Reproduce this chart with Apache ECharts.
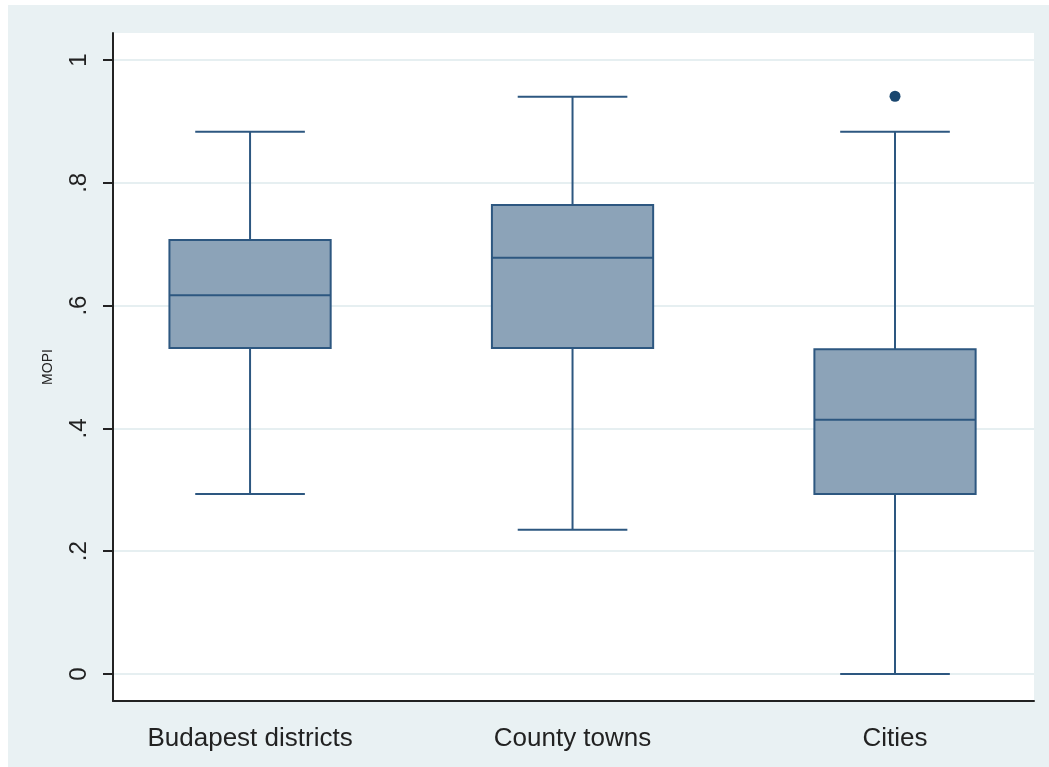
<!DOCTYPE html>
<html>
<head>
<meta charset="utf-8">
<script src="https://cdn.jsdelivr.net/npm/echarts@6/dist/echarts.min.js"></script>
<style>
  html, body { margin: 0; padding: 0; background: #ffffff; }
  #chart { position: absolute; left: 8px; top: 5px; width: 1041px; height: 762px; }
</style>
</head>
<body>
<div id="chart"></div>
<script>
// Groups shown along the horizontal axis
const categories = ['Budapest districts', 'County towns', 'Cities'];
// Box statistics per group: lower whisker, Q1, median, Q3, upper whisker
const lowerWhisker = [0.293, 0.235, 0.000];
const quartile1    = [0.531, 0.531, 0.293];
const medians      = [0.617, 0.678, 0.414];
const quartile3    = [0.707, 0.764, 0.529];
const upperWhisker = [0.883, 0.940, 0.883];
// Outside values: [group index, value]
const outliers = [[2, 0.941]];
// Y axis tick values
const yTicks = [0, 0.2, 0.4, 0.6, 0.8, 1];

const boxData = categories.map((c, i) => [
  i + 1, lowerWhisker[i], quartile1[i], medians[i], quartile3[i], upperWhisker[i]
]);
const outlierData = outliers.map(o => [o[0] + 1, o[1]]);

const STROKE = '#2d5780';
const FILL = '#8ca3b8';
const BOX_W = 0.5;   // box width in x units
const CAP_W = 0.34;  // whisker cap width in x units

function renderBox(params, api) {
  const x = api.value(0);
  const lo = api.coord([x, api.value(1)]);
  const q1 = api.coord([x, api.value(2)]);
  const md = api.coord([x, api.value(3)]);
  const q3 = api.coord([x, api.value(4)]);
  const hi = api.coord([x, api.value(5)]);
  const bw = api.size([BOX_W, 0])[0];
  const cw = api.size([CAP_W, 0])[0];
  const cx = lo[0];
  const line = { stroke: STROKE, lineWidth: 2 };
  return {
    type: 'group',
    children: [
      { type: 'line', shape: { x1: cx, y1: hi[1], x2: cx, y2: q3[1] }, style: line },
      { type: 'line', shape: { x1: cx, y1: q1[1], x2: cx, y2: lo[1] }, style: line },
      { type: 'line', shape: { x1: cx - cw / 2, y1: hi[1], x2: cx + cw / 2, y2: hi[1] }, style: line },
      { type: 'line', shape: { x1: cx - cw / 2, y1: lo[1], x2: cx + cw / 2, y2: lo[1] }, style: line },
      { type: 'rect', shape: { x: cx - bw / 2, y: q3[1], width: bw, height: q1[1] - q3[1] },
        style: { fill: FILL, stroke: STROKE, lineWidth: 2 } },
      { type: 'line', shape: { x1: cx - bw / 2, y1: md[1], x2: cx + bw / 2, y2: md[1] }, style: line }
    ]
  };
}

const chart = echarts.init(document.getElementById('chart'), null, { renderer: 'canvas' });
chart.setOption({
  backgroundColor: '#e9f1f3',
  animation: false,
  grid: {
    left: 105, right: 15, top: 28, bottom: 66,
    show: true, backgroundColor: '#ffffff', borderWidth: 0
  },
  xAxis: {
    type: 'value',
    min: 0.575, max: 3.431,
    axisLine: { show: true, onZero: false, lineStyle: { color: '#222222', width: 2 } },
    axisTick: { show: false },
    splitLine: { show: false },
    axisLabel: {
      customValues: [1, 2, 3],
      formatter: v => categories[Math.round(v) - 1] || '',
      color: '#222222', fontFamily: 'Liberation Sans, Arial, sans-serif', fontSize: 26, margin: 25
    }
  },
  yAxis: {
    type: 'value',
    min: -0.044, max: 1.044,
    name: 'MOPI',
    nameLocation: 'middle',
    nameGap: 58,
    nameRotate: 90,
    nameTextStyle: { color: '#222222', fontFamily: 'Liberation Sans, Arial, sans-serif', fontSize: 14 },
    axisLine: { show: true, onZero: false, lineStyle: { color: '#222222', width: 2 } },
    axisTick: { show: true, length: 10, customValues: yTicks, lineStyle: { color: '#222222', width: 2 } },
    splitLine: { show: true, lineStyle: { color: '#e6eff1', width: 2 } },
    axisLabel: {
      customValues: yTicks,
      rotate: 90,
      margin: 22,
      formatter: v => (v === 0 ? '0' : v === 1 ? '1' : String(v).replace(/^0/, '')),
      color: '#222222', fontFamily: 'Liberation Sans, Arial, sans-serif', fontSize: 24
    }
  },
  series: [
    {
      type: 'custom',
      renderItem: renderBox,
      data: boxData,
      encode: { x: 0, y: [1, 2, 3, 4, 5] },
      z: 3
    },
    {
      type: 'scatter',
      data: outlierData,
      symbol: 'circle',
      symbolSize: 11,
      itemStyle: { color: '#1a476f', opacity: 1 },
      z: 4
    }
  ]
});
</script>
</body>
</html>
